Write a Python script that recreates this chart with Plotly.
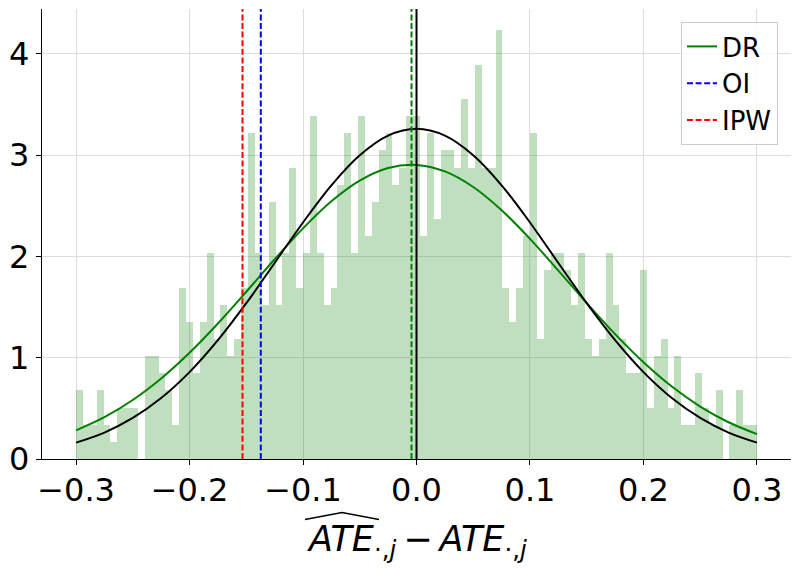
import numpy as np
import plotly.graph_objects as go

# ---- data ----
hist_range = [-0.3, 0.3]
# counts per bin (99 equal bins between -0.3 and 0.3)
counts = [4, 2, 2, 4, 2, 1, 3, 3, 3, 0,
          6, 6, 5, 4, 2, 10, 8, 5, 8, 12,
          7, 9, 6, 7, 10, 19, 12, 9, 15, 9,
          12, 17, 10, 12, 20, 12, 9, 10, 16, 19,
          12, 20, 13, 15, 18, 19, 16, 17, 20, 20,
          13, 19, 14, 18, 18, 17, 21, 17, 23, 17,
          17, 25, 10, 8, 10, 13, 19, 7, 11, 12,
          12, 11, 9, 12, 7, 6, 7, 12, 9, 7,
          5, 5, 11, 3, 6, 7, 3, 6, 2, 2,
          5, 3, 2, 4, 0, 2, 4, 2, 2]

curve_x = [-0.3, -0.275, -0.25, -0.225, -0.2, -0.175, -0.15, -0.125, -0.1, -0.075,
           -0.05, -0.025, 0.0, 0.025, 0.05, 0.075, 0.1, 0.125, 0.15, 0.175,
           0.2, 0.225, 0.25, 0.275, 0.3]
dr_curve_y = [0.283, 0.413, 0.582, 0.794, 1.048, 1.338, 1.651, 1.972, 2.277, 2.544,
              2.748, 2.872, 2.903, 2.839, 2.685, 2.456, 2.173, 1.860, 1.539, 1.233,
              0.955, 0.715, 0.518, 0.363, 0.246]
true_curve_y = [0.162, 0.261, 0.405, 0.602, 0.858, 1.173, 1.538, 1.935, 2.335, 2.702,
                2.999, 3.193, 3.260, 3.193, 2.999, 2.702, 2.335, 1.935, 1.538, 1.173,
                0.858, 0.602, 0.405, 0.261, 0.162]

est_names = ["DR", "OI", "IPW"]
est_values = [-0.0044, -0.1372, -0.1533]
true_value = 0.0

x_tickvals = [-0.3, -0.2, -0.1, 0.0, 0.1, 0.2, 0.3]
x_ticktext = ["\u22120.3", "\u22120.2", "\u22120.1", "0.0", "0.1", "0.2", "0.3"]
y_tickvals = [0, 1, 2, 3, 4]

# ---- derived ----
edges = np.linspace(hist_range[0], hist_range[1], len(counts) + 1)
bw = edges[1] - edges[0]
centers = (edges[:-1] + edges[1:]) / 2
density = np.array(counts) / (np.sum(counts) * bw)
ymax = density.max() * 1.05
span = hist_range[1] - hist_range[0]
xr = [hist_range[0] - 0.05 * span, hist_range[1] + 0.05 * span]

FONT = "DejaVu Sans"
fig = go.Figure()

fig.add_trace(go.Bar(x=centers, y=density, width=bw,
                     marker=dict(color="rgba(0,128,0,0.25)", line=dict(width=0)),
                     showlegend=False, hoverinfo="skip"))

fig.add_trace(go.Scatter(x=curve_x, y=dr_curve_y, mode="lines", name="DR",
                         line=dict(color="green", width=2, shape="spline"),
                         legendrank=1))
fig.add_trace(go.Scatter(x=curve_x, y=true_curve_y, mode="lines", name="true",
                         line=dict(color="black", width=2, shape="spline"),
                         showlegend=False))

colors = {"DR": "green", "OI": "blue", "IPW": "red"}
ranks = {"DR": 1, "OI": 2, "IPW": 3}
for nm, v in zip(est_names, est_values):
    fig.add_trace(go.Scatter(x=[v, v], y=[0, ymax], mode="lines", name=nm,
                             line=dict(color=colors[nm], width=2, dash="6px,2.6px"),
                             showlegend=(nm != "DR"), legendrank=ranks[nm]))
fig.add_trace(go.Scatter(x=[true_value, true_value], y=[0, ymax], mode="lines",
                         line=dict(color="black", width=2), showlegend=False))

# The page body has an 8px default margin: the figure starts at (8, 8) on screen.
OFF = 8
SW, SH = 800, 568               # screen size
L, R, T, B = 42, 791, 9, 459.5  # plot area in screen pixels
W, H = SW - OFF, SH - OFF

def px(xp):
    return (xp - L) / (R - L)

def py(yp):
    return (B - yp) / (B - T)

fig.update_layout(
    width=W, height=H,
    margin=dict(l=L - OFF, r=SW - R, t=T - OFF, b=SH - B, autoexpand=False),
    plot_bgcolor="white", paper_bgcolor="white",
    bargap=0,
    font=dict(family=FONT, color="black"),
    xaxis=dict(range=xr, tickvals=x_tickvals, ticktext=x_ticktext, automargin=False,
               showgrid=True, gridcolor="#dddddd", gridwidth=1,
               showline=True, linecolor="black", linewidth=1.3,
               ticks="outside", ticklen=5, tickcolor="black", tickwidth=1.3,
               ticklabelstandoff=-3,
               tickfont=dict(size=32, family=FONT), zeroline=False),
    yaxis=dict(range=[0, ymax], tickvals=y_tickvals, automargin=False,
               showgrid=True, gridcolor="#dddddd", gridwidth=1,
               showline=True, linecolor="black", linewidth=1.3,
               ticks="outside", ticklen=5, tickcolor="black", tickwidth=1.3,
               tickfont=dict(size=32, family=FONT), zeroline=False),
    legend=dict(x=px(778), y=py(22), xanchor="right", yanchor="top",
                bgcolor="rgba(255,255,255,0.8)", bordercolor="#cccccc", borderwidth=1,
                font=dict(size=26, family=FONT), itemwidth=30),
    showlegend=True,
)

fig.add_annotation(
    text="<i>ATE</i><sub>\u00b7,<i>j</i></sub>\u2009\u2212\u2009<i>ATE</i><sub>\u00b7,<i>j</i></sub>",
    xref="paper", yref="paper", x=0.5, y=py(542), xanchor="center", yanchor="middle",
    showarrow=False, font=dict(size=35, family=FONT, color="black"))

fig.add_shape(type="path", xref="paper", yref="paper",
              path=f"M {px(305)},{py(520)} L {px(342)},{py(513)} L {px(379)},{py(520)}",
              line=dict(color="black", width=1.5))

fig.write_html("out.html")
